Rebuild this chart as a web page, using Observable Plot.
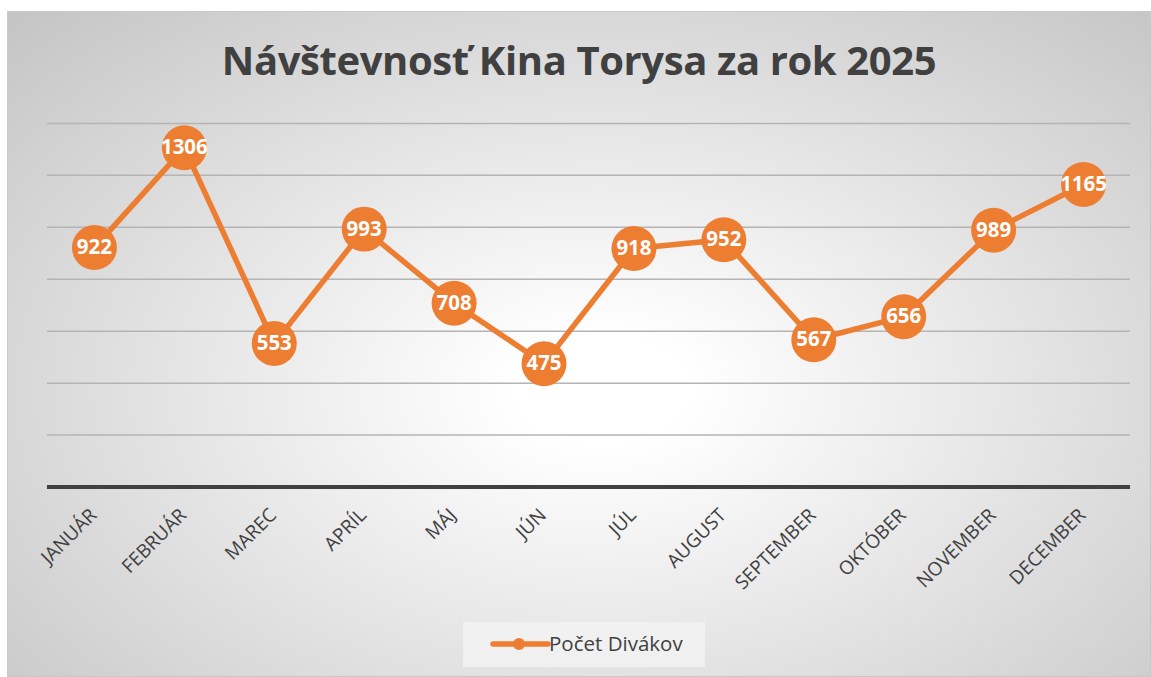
<!DOCTYPE html>
<html><head><meta charset="utf-8">
<script src="https://cdn.jsdelivr.net/npm/d3@7"></script>
<script src="https://cdn.jsdelivr.net/npm/@observablehq/plot@0.6"></script>
<style>
html,body{margin:0;padding:0;background:#fff;}
#wrap{position:absolute;left:7px;top:11px;width:1142px;height:664px;border:1px solid #c8c8c8;
 background:radial-gradient(ellipse farthest-corner at 52% 57%, #ffffff 10%, #c4c4c4 100%);overflow:hidden;}
#title{position:absolute;left:0;width:1142px;top:20px;text-align:center;font-family:"Open Sans",sans-serif;font-weight:700;font-size:40px;color:#404040;letter-spacing:-0.4px;}
#chart{position:absolute;left:-8px;top:-12px;}
#legend{position:absolute;left:455px;top:610px;width:242px;height:45px;background:rgba(242,242,242,0.85);font-family:"Open Sans",sans-serif;font-size:20.5px;line-height:20.5px;color:#404040;}
#legend svg{position:absolute;left:26px;top:14px;}
#legend span{position:absolute;left:86px;top:11px;white-space:nowrap;}
</style></head><body>
<div id="wrap">
<div id="title">Návštevnosť Kina Torysa za rok 2025</div>
<div id="chart"></div>
<div id="legend"><svg width="64" height="16"><line x1="4" y1="8" x2="59" y2="8" stroke="#ED7D31" stroke-width="5.5" stroke-linecap="round"/><circle cx="30" cy="8" r="6" fill="#ED7D31"/></svg><span>Počet Divákov</span></div>
</div>
<script>
const months = ["JANUÁR","FEBRUÁR","MAREC","APRÍL","MÁJ","JÚN","JÚL","AUGUST","SEPTEMBER","OKTÓBER","NOVEMBER","DECEMBER"];
const visitors = [922,1306,553,993,708,475,918,952,567,656,989,1165];
const gridTicks = [200,400,600,800,1000,1200,1400];
const orange = "#ED7D31";
const data = months.map((m,i)=>({month:m, value:visitors[i]}));
const chart = Plot.plot({
  width:1151, height:600,
  marginLeft:47, marginRight:20, marginTop:123, marginBottom:113,
  style:{background:"transparent", fontFamily:"Open Sans, sans-serif"},
  x:{type:"point", domain:months, padding:0.5},
  y:{domain:[0,1400], axis:null},
  marks:[
    Plot.ruleY(gridTicks,{stroke:"#b4b4b4", strokeWidth:1.5}),
    Plot.ruleY([0],{stroke:"#404040", strokeWidth:4}),
    Plot.axisX({tickSize:0, tickRotate:-45, tickPadding:25, dx:-1, fontSize:19, fill:"#404040", label:null}),
    Plot.line(data,{x:"month", y:"value", stroke:orange, strokeWidth:5.5}),
    Plot.dot(data,{x:"month", y:"value", r:22.5, fill:orange, stroke:null}),
    Plot.text(data,{x:"month", y:"value", text:d=>String(d.value), fill:"white", fontWeight:"bold", fontSize:20.5, dy:0})
  ]
});
document.getElementById("chart").appendChild(chart);
</script>
</body></html>
